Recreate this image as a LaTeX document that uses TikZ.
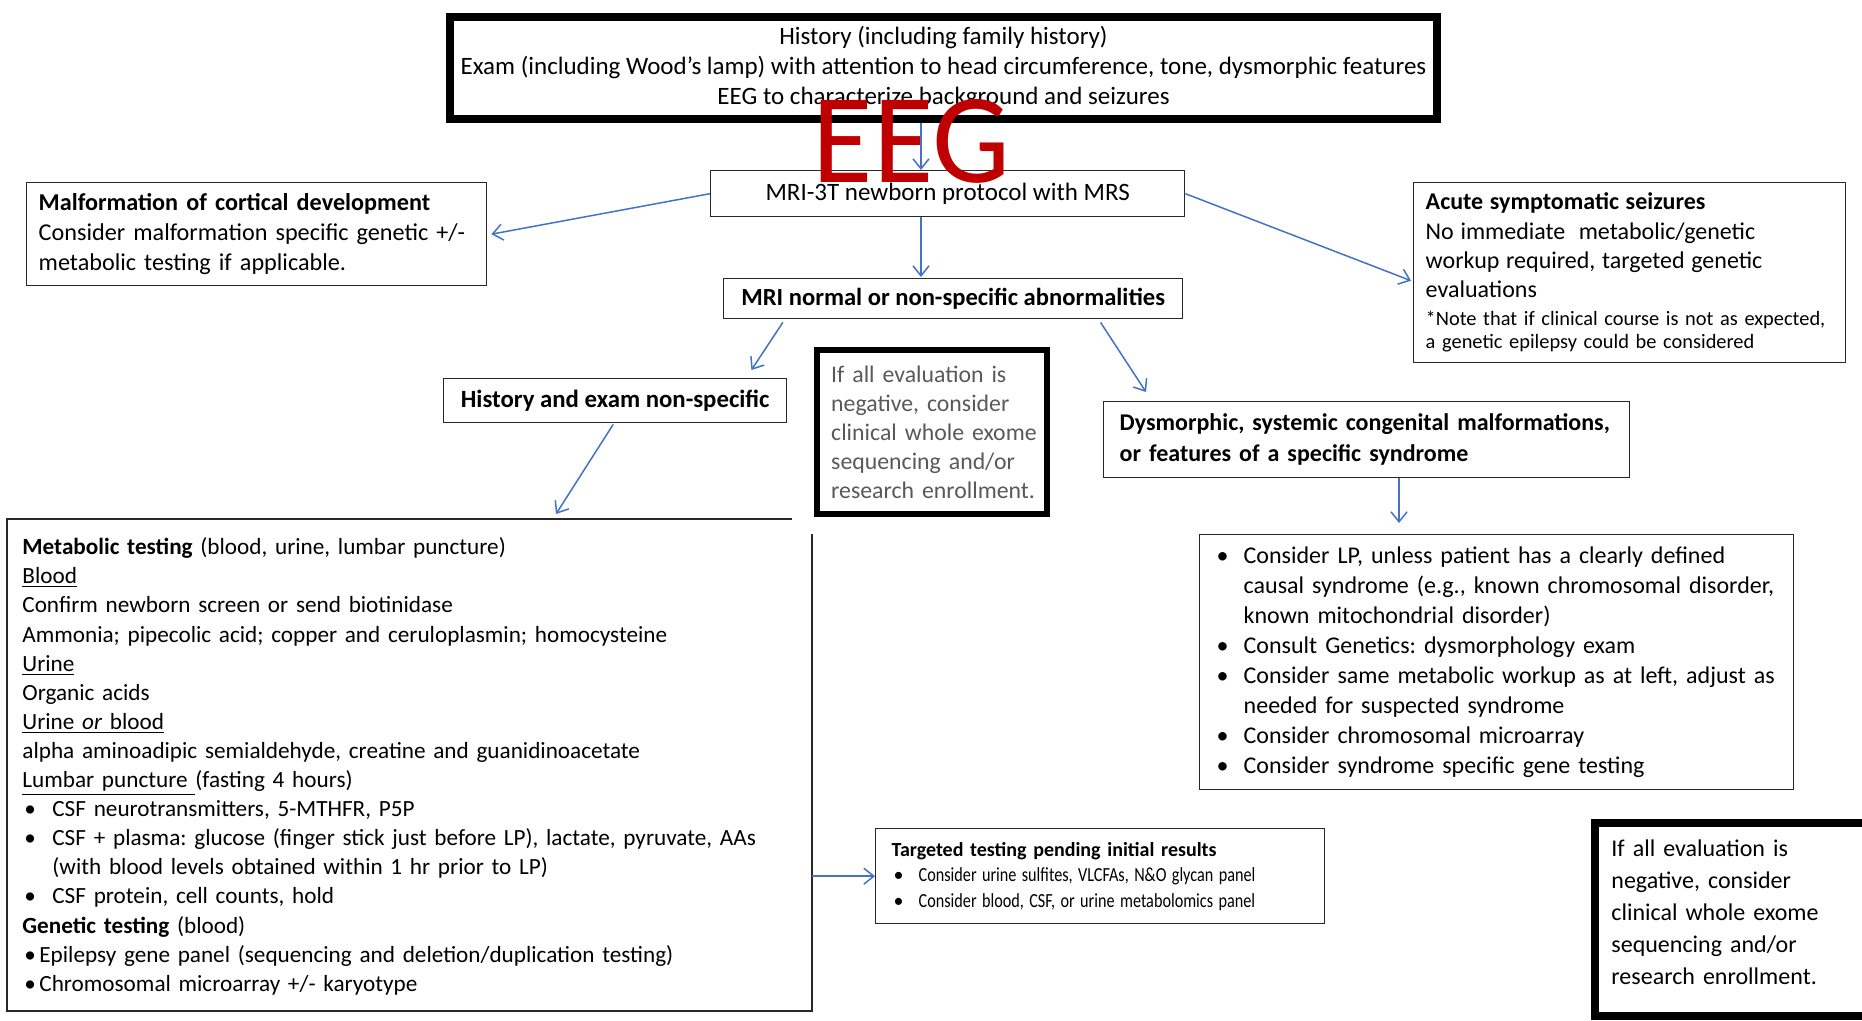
\documentclass[tikz,border=0pt]{standalone}
\usepackage{fontspec}
\setmainfont{Carlito}
\usetikzlibrary{arrows.meta,calc}
\definecolor{arrowblue}{RGB}{68,114,196}
\definecolor{eegred}{RGB}{192,0,0}
\definecolor{softgray}{RGB}{89,89,89}
\definecolor{boxline}{RGB}{40,40,40}
\newcommand{\mybul}[1]{\makebox[#1][l]{\textbullet}}
\newcommand{\oneline}[1]{\mbox{#1}}
\newcommand{\narrowtxt}[1]{\scalebox{0.81}[1]{#1}}
\frenchspacing
\begin{document}
\begin{tikzpicture}[x=0.5pt,y=-0.5pt,
  box/.style={draw=boxline, line width=0.7pt, inner ysep=0pt, anchor=north west},
  heavy/.style={draw=black, line width=#1, inner ysep=0pt, anchor=north west},
  arr/.style={draw=arrowblue, line width=0.75pt, -{Straight Barb[length=5pt,width=8pt]}}]
\fill[white] (0,0) rectangle (1862,1021);
\useasboundingbox (0,0) rectangle (1862,1021);

% header
\node[heavy=4pt, minimum width=493.5pt, minimum height=51pt, align=center,
  font=\fontsize{12.5}{15}\selectfont] (hdr) at (446,13)
  {History (including family history)\\
   Exam (including Wood’s lamp) with attention to head circumference, tone, dysmorphic features\\
   EEG to characterize background and seizures};

% MRI
\node[box, minimum width=237pt, minimum height=23pt, font=\fontsize{12.5}{15}\selectfont] (mri) at (710,170)
  {MRI-3T newborn protocol with MRS};

% malformation
\node[box, minimum width=230pt, minimum height=51.5pt, text width=218pt, inner xsep=6pt, align=left,
  font=\fontsize{12.1}{15}\selectfont] (malf) at (26,182)
  {\oneline{\textbf{Malformation of cortical development}}\\
   \oneline{Consider malformation specific genetic +/-}\\
   \oneline{metabolic testing if applicable.}};

% acute
\node[box, minimum width=216pt, minimum height=90pt, text width=204pt, inner xsep=6pt, align=left] (acute) at (1413,182)
  {\fontsize{12}{14.6}\selectfont
   \oneline{\textbf{Acute symptomatic seizures}}\\
   \oneline{No immediate\ \ metabolic/genetic}\\
   \oneline{workup required, targeted genetic}\\
   evaluations\par\vspace{2.6pt}
   \fontsize{10.2}{11.5}\selectfont
   \oneline{*Note that if clinical course is not as expected,}\\
   \oneline{a genetic epilepsy could be considered}\par};

% MRI normal
\node[box, minimum width=229.5pt, minimum height=20pt, font=\bfseries\fontsize{12.3}{15}\selectfont] (mrin) at (723,278)
  {MRI normal or non-specific abnormalities};

% history non-specific
\node[box, minimum width=171.5pt, minimum height=22pt, font=\bfseries\fontsize{12.4}{15}\selectfont] (hist) at (443,378)
  {History and exam non-specific};

% center all negative
\node[heavy=3.2pt, minimum width=115pt, minimum height=82pt, text width=101pt, inner xsep=7pt, align=left,
  text=softgray, font=\fontsize{11.9}{14.5}\selectfont] (allneg) at (814,347)
  {\oneline{If all evaluation is}\\
   \oneline{negative, consider}\\
   \oneline{clinical whole exome}\\
   \oneline{sequencing and/or}\\
   \oneline{research enrollment.}};

% dysmorphic
\node[box, minimum width=263pt, minimum height=38pt, text width=247pt, inner xsep=8pt, align=left,
  font=\bfseries\fontsize{12}{15.5}\selectfont] (dysm) at (1103,401)
  {\oneline{Dysmorphic, systemic congenital malformations,}\\
   \oneline{or features of a specific syndrome}};

% LP box
\node[box, minimum width=297pt, minimum height=127.5pt, text width=280pt, inner xsep=8.5pt, align=left,
  font=\fontsize{12}{15}\selectfont] (lp) at (1199,534)
  {\oneline{\mybul{13.5pt}Consider LP, unless patient has a clearly defined}\\
   \oneline{\hspace*{13.5pt}causal syndrome (e.g., known chromosomal disorder,}\\
   \oneline{\hspace*{13.5pt}known mitochondrial disorder)}\\
   \oneline{\mybul{13.5pt}Consult Genetics: dysmorphology exam}\\
   \oneline{\mybul{13.5pt}Consider same metabolic workup as at left, adjust as}\\
   \oneline{\hspace*{13.5pt}needed for suspected syndrome}\\
   \oneline{\mybul{13.5pt}Consider chromosomal microarray}\\
   \oneline{\mybul{13.5pt}Consider syndrome specific gene testing}};

% metabolic box
\node[anchor=north west, inner ysep=0pt, minimum width=402pt, minimum height=244pt, text width=387pt, inner xsep=7.5pt,
  align=left, font=\fontsize{11.6}{14.55}\selectfont] (met) at (7,522)
  {\oneline{\textbf{Metabolic testing} (blood, urine, lumbar puncture)}\\
   \oneline{\underline{Blood}}\\
   \oneline{Confirm newborn screen or send biotinidase}\\
   \oneline{Ammonia; pipecolic acid; copper and ceruloplasmin; homocysteine}\\
   \oneline{\underline{Urine}}\\
   \oneline{Organic acids}\\
   \oneline{\underline{Urine \textit{or} blood}}\\
   \oneline{alpha aminoadipic semialdehyde, creatine and guanidinoacetate}\\
   \oneline{\underline{Lumbar puncture\ }(fasting 4 hours)}\\
   \oneline{\hspace*{1pt}\mybul{14pt}CSF neurotransmitters, 5-MTHFR, P5P}\\
   \oneline{\hspace*{1pt}\mybul{14pt}CSF + plasma: glucose (finger stick just before LP), lactate, pyruvate, AAs}\\
   \oneline{\hspace*{15pt}(with blood levels obtained within 1 hr prior to LP)}\\
   \oneline{\hspace*{1pt}\mybul{14pt}CSF protein, cell counts, hold}\\
   \oneline{\textbf{Genetic testing} (blood)}\\
   \oneline{\hspace*{1pt}\mybul{7.5pt}Epilepsy gene panel (sequencing and deletion/duplication testing)}\\
   \oneline{\hspace*{1pt}\mybul{7.5pt}Chromosomal microarray +/- karyotype}};
\draw[boxline, line width=0.7pt] ($(met.north east)+(-20,-3)$) -- ($(met.north west)+(0,-3)$) -- (met.south west)
  -- (met.south east) -- ($(met.north east)+(0,12)$);

% targeted
\node[box, minimum width=224.5pt, minimum height=47.5pt, text width=208.5pt, inner xsep=8pt, align=left,
  font=\fontsize{10}{12.8}\selectfont] (targ) at (875,828)
  {\oneline{\textbf{Targeted testing pending initial results}}\\
   \oneline{\hspace*{1pt}\mybul{12.5pt}\narrowtxt{Consider urine sulfites, VLCFAs, N\&O glycan panel}}\\
   \oneline{\hspace*{1pt}\mybul{12.5pt}\narrowtxt{Consider blood, CSF, or urine metabolomics panel}}};

% bottom right all negative (text block centred a little above the box centre)
\node[anchor=north west, inner ysep=0pt, minimum width=145pt, minimum height=89pt, text width=129pt, inner xsep=8pt,
  align=left, font=\fontsize{12}{16}\selectfont] (allneg2) at (1595,823)
  {\oneline{If all evaluation is}\\
   \oneline{negative, consider}\\
   \oneline{clinical whole exome}\\
   \oneline{sequencing and/or}\\
   \oneline{research enrollment.}};
\draw[black, line width=4pt] (allneg2.north west) rectangle ($(allneg2.south east)+(0,14)$);

% EEG overlay
\node[text=eegred, inner sep=0pt] (eeg) at (911.5,141.5) {\resizebox{98.5pt}{41.5pt}{EEG}};

% connectors
\coordinate (ax) at (921,0);
\coordinate (bx) at (1399,0);
\draw[arr] (hdr.south -| ax) -- (mri.north -| ax);
\draw[arr] (mri.west) -- ($(malf.east)+(4,0)$);
\draw[arr] (mri.east) -- ($(acute.west)+(-2,8)$);
\draw[arr] (mri.south -| ax) -- ($(mrin.north -| ax)+(0,-1)$);
\draw[arr] ($(mrin.south west)!0.13!(mrin.south east)+(0,3)$) -- ($(hist.north east)+(-36,-8)$);
\draw[arr] ($(mrin.south west)!0.82!(mrin.south east)+(0,3)$) -- ($(dysm.north west)+(43,-9)$);
\draw[arr] (dysm.south -| bx) -- ($(lp.north -| bx)+(0,-11)$);
\draw[arr] ($(hist.south)+(-2,1)$) -- ($(met.north west)+(549,-8)$);
\draw[arr] (met.east |- targ.west) -- (targ.west);
\end{tikzpicture}
\end{document}
